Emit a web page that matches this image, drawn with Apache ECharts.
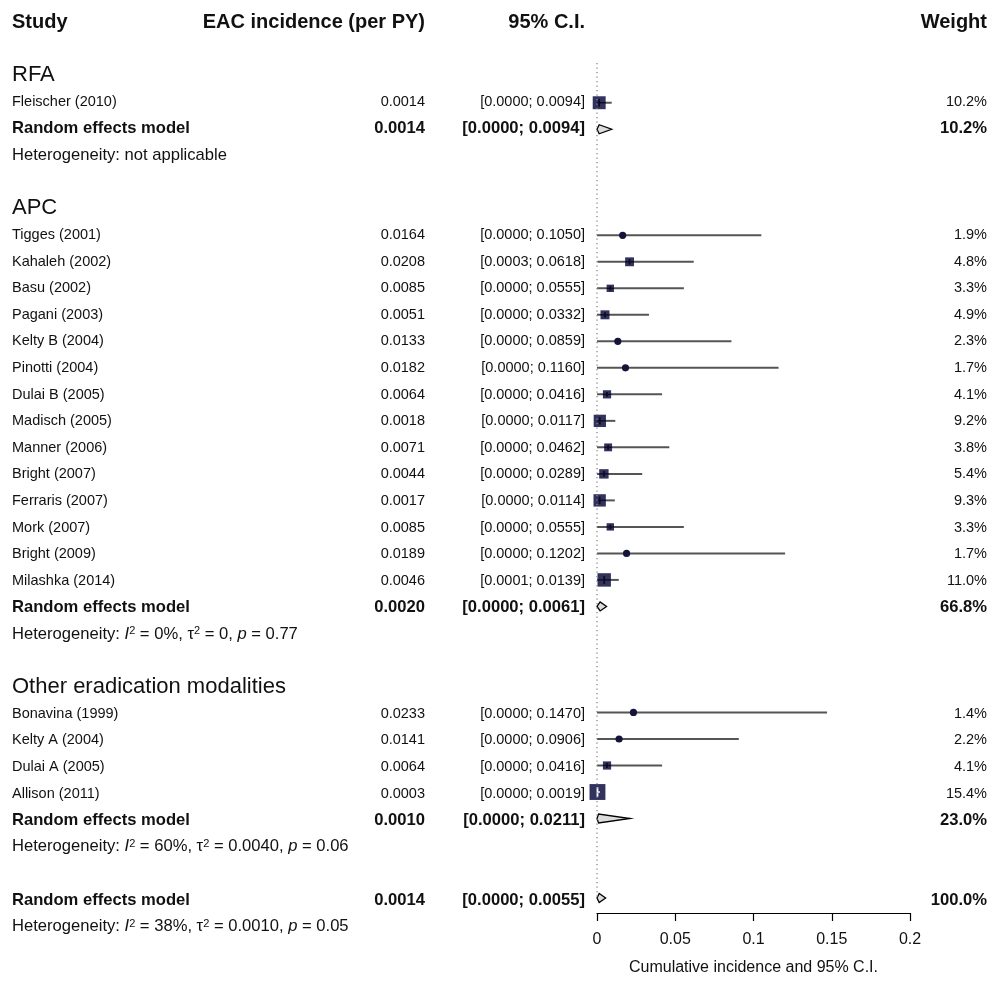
<!DOCTYPE html>
<html>
<head>
<meta charset="utf-8">
<script src="https://cdn.jsdelivr.net/npm/echarts@6/dist/echarts.min.js"></script>
<style>
html,body{margin:0;padding:0;background:#fff;}
#main{width:990px;height:981px;}
</style>
</head>
<body>
<div id="main"></div>
<script>
// subgroups
var groupNames = ['RFA', 'APC', 'Other eradication modalities'];

// studies (group index, name, EAC incidence, CI, weight %)
var studyGroup = [0, 1,1,1,1,1,1,1,1,1,1,1,1,1,1, 2,2,2,2];
var studyNames = ['Fleischer (2010)',
  'Tigges (2001)','Kahaleh (2002)','Basu (2002)','Pagani (2003)','Kelty B (2004)','Pinotti (2004)',
  'Dulai B (2005)','Madisch (2005)','Manner (2006)','Bright (2007)','Ferraris (2007)','Mork (2007)',
  'Bright (2009)','Milashka (2014)',
  'Bonavina (1999)','Kelty A (2004)','Dulai A (2005)','Allison (2011)'];
var studyEst = [0.0014,
  0.0164,0.0208,0.0085,0.0051,0.0133,0.0182,0.0064,0.0018,0.0071,0.0044,0.0017,0.0085,0.0189,0.0046,
  0.0233,0.0141,0.0064,0.0003];
var studyLower = [0.0000,
  0.0000,0.0003,0.0000,0.0000,0.0000,0.0000,0.0000,0.0000,0.0000,0.0000,0.0000,0.0000,0.0000,0.0001,
  0.0000,0.0000,0.0000,0.0000];
var studyUpper = [0.0094,
  0.1050,0.0618,0.0555,0.0332,0.0859,0.1160,0.0416,0.0117,0.0462,0.0289,0.0114,0.0555,0.1202,0.0139,
  0.1470,0.0906,0.0416,0.0019];
var studyWeight = [10.2,
  1.9,4.8,3.3,4.9,2.3,1.7,4.1,9.2,3.8,5.4,9.3,3.3,1.7,11.0,
  1.4,2.2,4.1,15.4];

// random effects models: one per subgroup, then overall
var pooledEst = [0.0014, 0.0020, 0.0010, 0.0014];
var pooledLower = [0.0000, 0.0000, 0.0000, 0.0000];
var pooledUpper = [0.0094, 0.0061, 0.0211, 0.0055];
var pooledWeight = [10.2, 66.8, 23.0, 100.0];
var hetI2 = [null, '0%', '60%', '38%'];
var hetTau2 = [null, '0', '0.0040', '0.0010'];
var hetP = [null, '0.77', '0.06', '0.05'];

var xTicks = [0, 0.05, 0.1, 0.15, 0.2];

var FONT = '"Liberation Sans", Arial, sans-serif';
var INK = '#111111';

// --- build rows
var texts = [];   // [x, row, kind, text, align]
var marks = [];   // [est, row, lo, hi, weight, type]
function addText(x, row, kind, txt, align) { texts.push([x, row, kind, txt, align]); }

addText(12, 0, 'head', 'Study', 'left');
addText(425, 0, 'head', 'EAC incidence (per PY)', 'right');
addText(585, 0, 'head', '95% C.I.', 'right');
addText(987, 0, 'head', 'Weight', 'right');

function ciText(lo, hi) { return '[' + lo.toFixed(4) + '; ' + hi.toFixed(4) + ']'; }
function hetLine(k) {
  if (hetI2[k] === null) return 'Heterogeneity: not applicable';
  return 'Heterogeneity: {it|I}{sup|2} = ' + hetI2[k] + ', τ{sup|2} = ' + hetTau2[k] + ', {it|p} = ' + hetP[k];
}
function addPooled(k, row) {
  addText(12, row, 'bold', 'Random effects model', 'left');
  addText(425, row, 'bold', pooledEst[k].toFixed(4), 'right');
  addText(585, row, 'bold', ciText(pooledLower[k], pooledUpper[k]), 'right');
  addText(987, row, 'bold', pooledWeight[k].toFixed(1) + '%', 'right');
  addText(12, row + 1, 'het', hetLine(k), 'left');
  marks.push([pooledEst[k], row, pooledLower[k], pooledUpper[k], pooledWeight[k], 1]);
}

var row = 2;
for (var g = 0; g < groupNames.length; g++) {
  addText(12, row, 'group', groupNames[g], 'left');
  row++;
  for (var i = 0; i < studyNames.length; i++) {
    if (studyGroup[i] !== g) continue;
    addText(12, row, 'study', studyNames[i], 'left');
    addText(425, row, 'study', studyEst[i].toFixed(4), 'right');
    addText(585, row, 'study', ciText(studyLower[i], studyUpper[i]), 'right');
    addText(987, row, 'study', studyWeight[i].toFixed(1) + '%', 'right');
    marks.push([studyEst[i], row, studyLower[i], studyUpper[i], studyWeight[i], 0]);
    row++;
  }
  addPooled(g, row);
  row += 3;
}
addPooled(3, row);

var textStyles = {
  head: {fontSize: 20, fontWeight: 'bold'},
  group: {fontSize: 22, fontWeight: 'normal'},
  study: {fontSize: 14.5, fontWeight: 'normal'},
  bold: {fontSize: 16.6, fontWeight: 'bold'},
  het: {fontSize: 16.6, fontWeight: 'normal'}
};

function renderText(params, api) {
  var t = texts[params.dataIndex];
  var p = api.coord([t[0], t[1]]);
  var st = textStyles[t[2]];
  return {
    type: 'text', x: p[0], y: p[1],
    style: {
      text: t[3], align: t[4], verticalAlign: 'middle', fill: INK,
      fontSize: st.fontSize, fontWeight: st.fontWeight, fontFamily: FONT,
      rich: {
        it: {fontSize: 16.6, fontStyle: 'italic', fontFamily: FONT, fill: INK},
        sup: {fontSize: 11, verticalAlign: 'top', padding: [0, 0, 3, 0], fontFamily: FONT, fill: INK}
      }
    }
  };
}

function renderMark(params, api) {
  var est = api.value(0), r = api.value(1), lo = api.value(2), hi = api.value(3), w = api.value(4), type = api.value(5);
  var c = api.coord([est, r]);
  var pl = api.coord([lo, r])[0], ph = api.coord([hi, r])[0];
  var y = c[1];
  if (type === 1) {
    return {
      type: 'polygon',
      shape: {points: [[pl, y], [c[0], y - 4.5], [ph, y], [c[0], y + 4.5]]},
      style: {fill: '#dcdcdc', stroke: '#000', lineWidth: 1.3}
    };
  }
  var side = 4.05 * Math.sqrt(w);
  var kids = [];
  kids.push({type: 'line', shape: {x1: pl, y1: y, x2: ph, y2: y}, style: {stroke: '#555555', lineWidth: 2}});
  if (side < 6.5) {
    kids.push({type: 'circle', shape: {cx: c[0], cy: y, r: 3.6}, style: {fill: '#14143a'}});
  } else {
    var x0 = c[0] - side / 2, x1 = c[0] + side / 2;
    kids.push({type: 'rect', shape: {x: x0, y: y - side / 2, width: side, height: side}, style: {fill: '#32325f'}});
    var inside = pl >= x0 && ph <= x1;
    var col = inside ? '#ffffff' : '#0c0c20';
    kids.push({type: 'line', shape: {x1: Math.max(pl, x0), y1: y, x2: Math.min(ph, x1), y2: y}, style: {stroke: col, lineWidth: 1.4}});
    kids.push({type: 'line', shape: {x1: c[0], y1: y - side * 0.3, x2: c[0], y2: y + side * 0.3}, style: {stroke: col, lineWidth: 1.8}});
  }
  return {type: 'group', children: kids};
}

var chart = echarts.init(document.getElementById('main'), null, {renderer: 'canvas'});
chart.setOption({
  animation: false,
  backgroundColor: '#fff',
  grid: [
    {left: 597, right: 80, top: 23.2, bottom: 65},
    {left: 0, right: 0, top: 22.2, bottom: 27.8}
  ],
  xAxis: [
    {
      gridIndex: 0, type: 'value', min: 0, max: 0.2, interval: 0.05, position: 'bottom',
      axisLine: {show: true, onZero: false, lineStyle: {color: '#000', width: 1.2}},
      axisTick: {show: true, length: 8, lineStyle: {color: '#000', width: 1.2}},
      axisLabel: {
        margin: 19, color: INK, fontSize: 16, fontFamily: FONT,
        formatter: function (v) { return xTicks.indexOf(v) >= 0 ? String(v) : ''; }
      },
      splitLine: {show: false},
      name: 'Cumulative incidence and 95% C.I.', nameLocation: 'middle', nameGap: 47,
      nameTextStyle: {color: INK, fontSize: 16, fontFamily: FONT}
    },
    {gridIndex: 1, type: 'value', min: 0, max: 990, show: false}
  ],
  yAxis: [
    {gridIndex: 0, type: 'value', min: 0, max: 33.564, inverse: true, show: false},
    {gridIndex: 1, type: 'value', min: 0, max: 35, inverse: true, show: false}
  ],
  series: [
    {
      type: 'line', xAxisIndex: 0, yAxisIndex: 0, symbol: 'none', silent: true,
      data: [[0, 1.5], [0, 33]],
      lineStyle: {color: '#8a8a8a', width: 1.3, type: [1.3, 3.2]}
    },
    {
      type: 'custom', xAxisIndex: 0, yAxisIndex: 0, renderItem: renderMark,
      encode: {x: [0, 2, 3], y: 1}, data: marks, clip: false
    },
    {
      type: 'custom', xAxisIndex: 1, yAxisIndex: 1, renderItem: renderText,
      encode: {x: 0, y: 1}, data: texts, clip: false
    }
  ]
});
</script>
</body>
</html>
